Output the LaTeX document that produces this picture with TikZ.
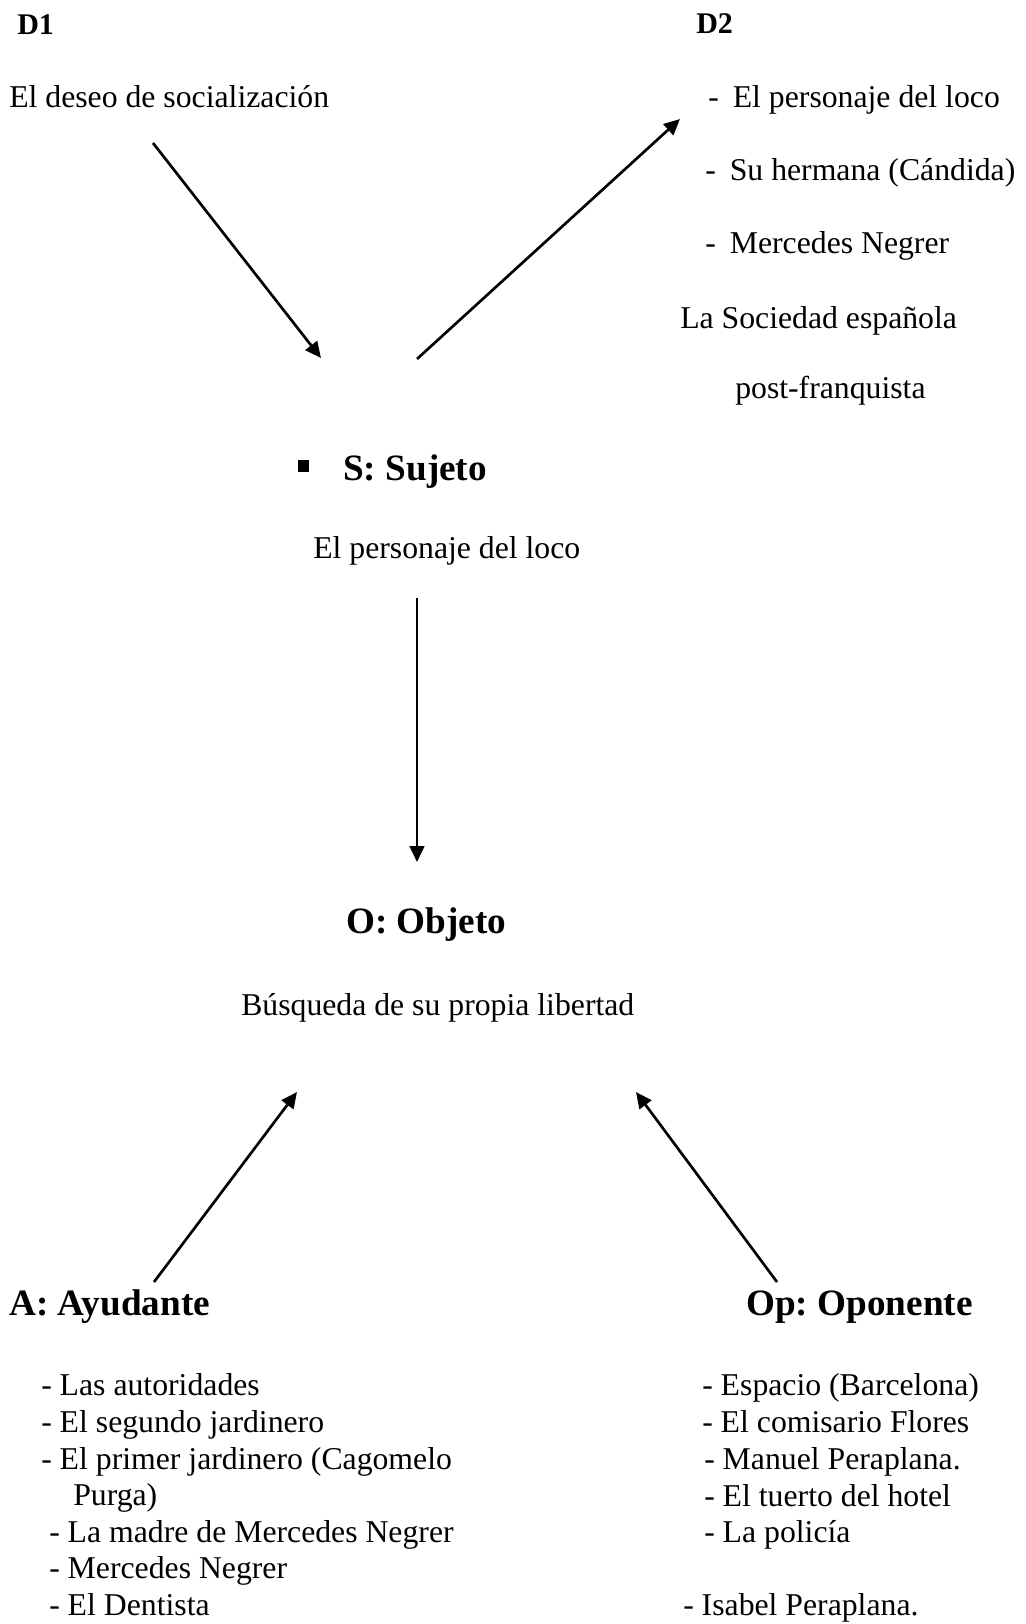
\documentclass[tikz,border=0pt]{standalone}
\usepackage{fontspec}
\setmainfont{Liberation Serif}
\usetikzlibrary{arrows.meta}
\frenchspacing
\tikzset{
  body/.style={anchor=base west, inner sep=0pt, font=\fontsize{23.8pt}{28pt}\selectfont\frenchspacing},
  head/.style={anchor=base west, inner sep=0pt, font=\fontsize{27.9pt}{32pt}\selectfont\bfseries\frenchspacing},
  dhead/.style={anchor=base west, inner sep=0pt, font=\fontsize{22.5pt}{26pt}\selectfont\bfseries},
  conn/.style={line width=2pt, -{Triangle[length=12pt,width=11pt]}}
}
\newcommand{\tabgap}{\hspace{10.5pt}}
\begin{document}
\begin{tikzpicture}[x=0.75pt,y=-0.75pt]
\useasboundingbox (0,0) rectangle (1025,1624);

% D1 / D2
\node[dhead] (d1) at (17,34) {D1};
\node[dhead] (d2) at (696,33) {D2};
\node[body] (d1t) at (9,107) {El deseo de socialización};

\node[body] (d2a) at (708,107) {-\tabgap El personaje del loco};
\node[body] (d2b) at (705,180) {-\tabgap Su hermana (Cándida)};
\node[body] (d2c) at (705,253) {-\tabgap Mercedes Negrer};
\node[body] (d2d) at (680,328) {La Sociedad española};
\node[body] (d2e) at (735,398) {post-franquista};

% Subject
\node[fill=black, inner sep=0pt, minimum size=8.3pt] (bul) at (303.5,466) {};
\node[head] (s) at (343,480) {S: Sujeto};
\node[body] (st) at (313,558) {El personaje del loco};

% Object
\node[head] (o) at (346,933) {O: Objeto};
\node[body] (ot) at (241,1015) {Búsqueda de su propia libertad};

% Helper / opponent
\node[head] (a) at (9,1315) {A: Ayudante};
\node[head] (op) at (746,1315) {Op: Oponente};

\node[body] (a1) at (41,1395) {- Las autoridades};
\node[body] (a2) at (41,1432) {- El segundo jardinero};
\node[body] (a3) at (41,1469) {- El primer jardinero (Cagomelo};
\node[body] (a4) at (73,1505) {Purga)};
\node[body] (a5) at (49,1542) {- La madre de Mercedes Negrer};
\node[body] (a6) at (49,1578) {- Mercedes Negrer};
\node[body] (a7) at (49,1615) {- El Dentista};

\node[body] (p1) at (702,1395) {- Espacio (Barcelona)};
\node[body] (p2) at (702,1432) {- El comisario Flores};
\node[body] (p3) at (704,1469) {- Manuel Peraplana.};
\node[body] (p4) at (704,1506) {- El tuerto del hotel};
\node[body] (p5) at (704,1542) {- La policía};
\node[body] (p6) at (683,1615) {- Isabel Peraplana.};

% arrow end points
\coordinate (d1s) at (153,143);
\coordinate (d1e) at (321,358);
\coordinate (d2s) at (417,359);
\coordinate (d2e) at (680,119);
\coordinate (vs) at (417,598);
\coordinate (ve) at (417,862);
\coordinate (as) at (154,1282);
\coordinate (ae) at (297,1092);
\coordinate (ops) at (777,1282);
\coordinate (ope) at (636,1092);

\draw[conn] (d1s) -- (d1e);
\draw[conn] (d2s) -- (d2e);
\draw[conn] (vs) -- (ve);
\draw[conn] (as) -- (ae);
\draw[conn] (ops) -- (ope);
\end{tikzpicture}
\end{document}
